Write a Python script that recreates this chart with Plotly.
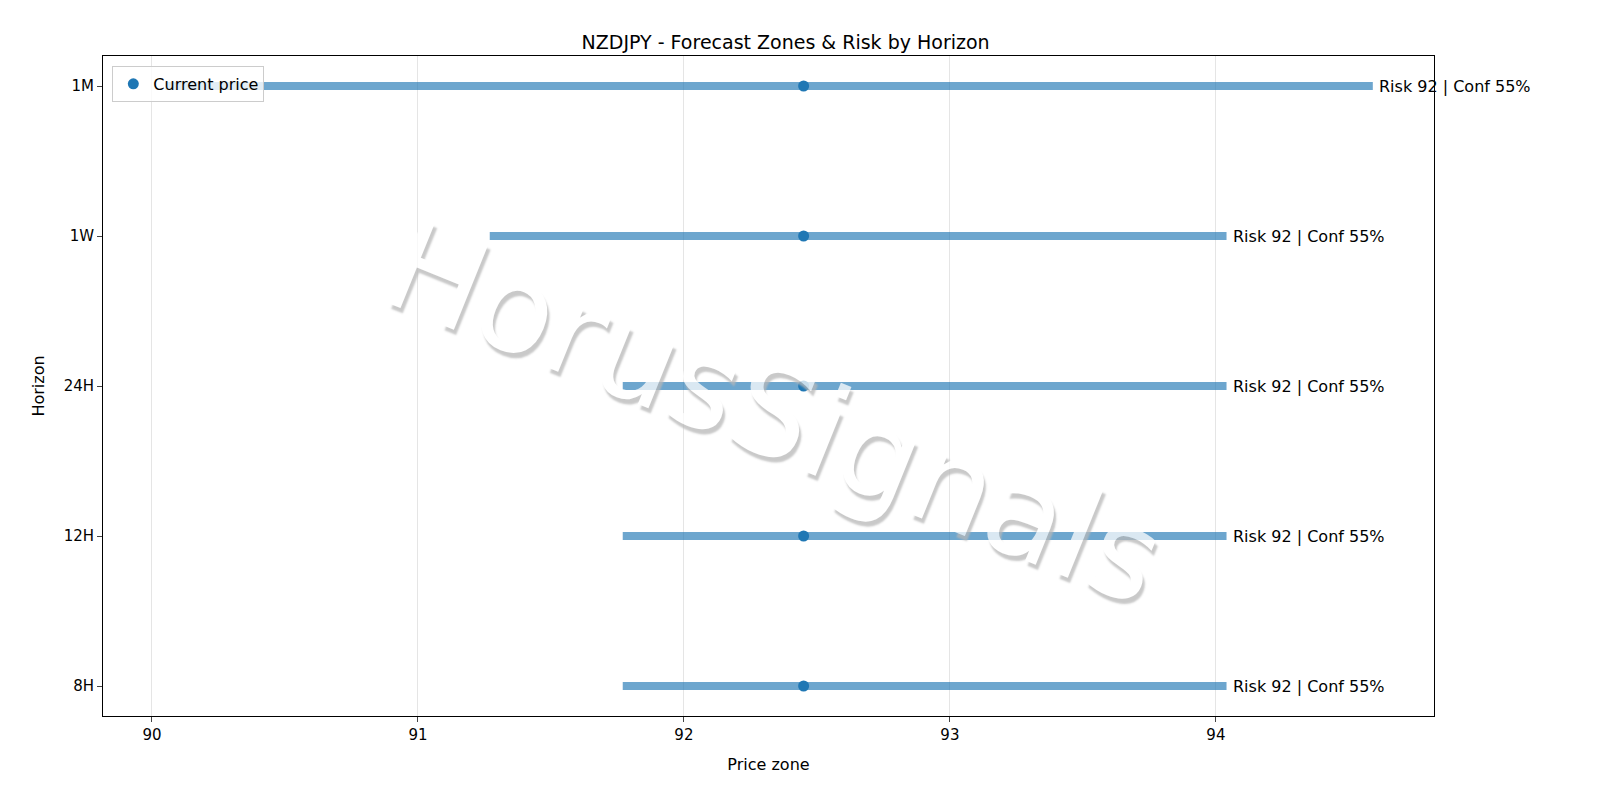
import plotly.graph_objects as go

horizons = ["8H", "12H", "24H", "1W", "1M"]
lows = [91.77, 91.77, 91.77, 91.27, 90.05]
highs = [94.04, 94.04, 94.04, 94.04, 94.59]
current = 92.45
labels = ["Risk 92 | Conf 55%"] * 5

fig = go.Figure()
for i, h in enumerate(horizons):
    fig.add_trace(go.Scatter(x=[lows[i], highs[i]], y=[i, i], mode="lines",
                             line=dict(color="rgba(31,119,180,0.65)", width=8),
                             showlegend=False, hoverinfo="skip"))
    fig.add_annotation(x=highs[i], y=i, text=labels[i], showarrow=False,
                       xanchor="left", xshift=4, font=dict(size=16, color="black"))
fig.add_trace(go.Scatter(x=[current] * 5, y=list(range(5)), mode="markers",
                         marker=dict(color="#1f77b4", size=11), name="Current price"))

fig.add_annotation(x=0.505, y=0.46, xref="paper", yref="paper", text="HorusSignals",
                   showarrow=False, textangle=22, opacity=0.75,
                   font=dict(family="DejaVu Sans", size=126, color="white",
                             shadow="4px 4px 2px #b8b8b8"))

fig.update_layout(
    width=1600, height=800, plot_bgcolor="white", paper_bgcolor="white",
    margin=dict(l=95, r=174, t=48, b=92),
    title=dict(text="NZDJPY - Forecast Zones & Risk by Horizon", x=0.486, y=0.965,
               font=dict(size=19, color="black")),
    font=dict(family="DejaVu Sans", color="black", size=15),
    legend=dict(x=0.007, y=0.985, xanchor="left", yanchor="top", bgcolor="rgba(255,255,255,0.8)",
                bordercolor="#ccc", borderwidth=1, font=dict(size=16)),
    xaxis=dict(range=[89.816, 94.82], tickvals=[90, 91, 92, 93, 94], showgrid=True,
               gridcolor="#e5e5e5", zeroline=False, showline=True, linecolor="black",
               mirror=True, ticks="outside", title=dict(text="Price zone", font=dict(size=16))),
    yaxis=dict(range=[-0.2, 4.2], tickvals=list(range(5)), ticktext=horizons, showgrid=False,
               zeroline=False, showline=True, linecolor="black", mirror=True, ticks="outside",
               title=dict(text="Horizon", font=dict(size=16))),
)
fig.write_html("out.html")
